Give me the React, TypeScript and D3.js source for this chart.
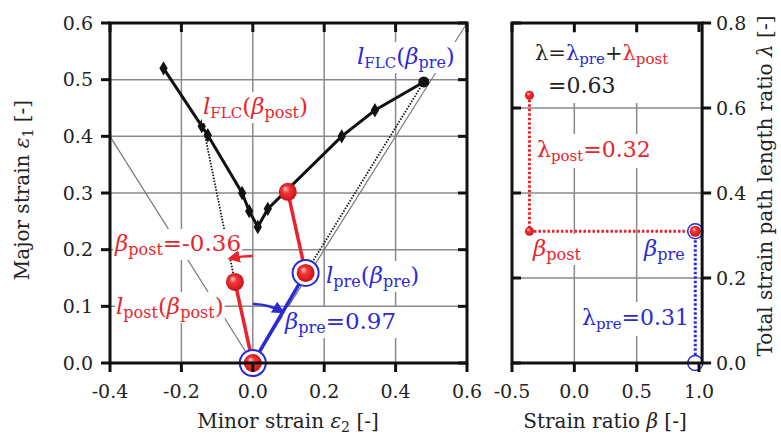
import React, { useLayoutEffect, useRef, useState } from "react";
import * as d3 from "d3";

// ---- data ----
const flcMinor = [-0.25, -0.143, -0.126, -0.03, -0.01, 0.014, 0.042, 0.249, 0.342, 0.479];
const flcMajor = [0.52, 0.418, 0.402, 0.30, 0.268, 0.24, 0.272, 0.40, 0.446, 0.496];
const prePoint = [0.148, 0.159];
const postEnd = [0.098, 0.302];
const postShifted = [-0.05, 0.143];
const flcPostHit = [-0.135, 0.405];
const flcPreHit = [0.479, 0.496];
const betaPre = 0.97;
const betaPost = -0.36;
const lambdaPre = 0.31;
const lambdaPost = 0.32;
const leftXTicks = [-0.4, -0.2, 0.0, 0.2, 0.4, 0.6];
const leftYTicks = [0.0, 0.1, 0.2, 0.3, 0.4, 0.5, 0.6];
const rightXTicks = [-0.5, 0.0, 0.5, 1.0];
const rightYTicks = [0.0, 0.2, 0.4, 0.6, 0.8];

const RED = "#e8242c";
const BLUE = "#2a2ad6";
const GRID = "#8a8a8a";
const FONT = "'DejaVu Serif', serif";

const xL = d3.scaleLinear().domain([-0.4, 0.6]).range([110, 467]);
const yL = d3.scaleLinear().domain([0, 0.6]).range([363, 23]);
const xR = d3.scaleLinear().domain([-0.5, 1.0]).range([512, 699]);
const yR = d3.scaleLinear().domain([0, 0.8]).range([363, 23]);
const xRmax = 1.025;

function Boxed({ children, pad = 1 }: { children: React.ReactNode; pad?: number }) {
  const ref = useRef<SVGGElement>(null);
  const [b, setB] = useState<any>(null);
  useLayoutEffect(() => {
    if (ref.current) {
      const bb = ref.current.getBBox();
      setB({ x: bb.x, y: bb.y, w: bb.width, h: bb.height });
    }
  }, []);
  return (
    <g>
      {b && <rect x={b.x - pad} y={b.y - pad} width={b.w + 2 * pad} height={b.h + 2 * pad} fill="white" />}
      <g ref={ref}>{children}</g>
    </g>
  );
}

function arcArrow(r: number, target: number[], color: string, id: string) {
  const ox = xL(0), oy = yL(0);
  const tx = xL(target[0]) - ox, ty = yL(target[1]) - oy;
  const len = Math.hypot(tx, ty);
  const ex = ox + (tx / len) * r, ey = oy + (ty / len) * r;
  const sweep = tx > 0 ? 1 : 0;
  return (
    <path
      d={`M${ox},${oy - r} A${r},${r} 0 0 ${sweep} ${ex},${ey}`}
      fill="none"
      stroke={color}
      strokeWidth={2.5}
      markerEnd={`url(#${id})`}
    />
  );
}

const MAIN = 23;
const SUB = 16;

export default function App() {
  const flc = flcMinor.map((x, i) => [x, flcMajor[i]]);
  const lineL = d3.line<number[]>().x((d) => xL(d[0])).y((d) => yL(d[1]));
  const diamond = d3.symbol().type(d3.symbolDiamond).size(60)();
  const lambdaTot = lambdaPre + lambdaPost;
  const tickTxt = { fontFamily: FONT, fontSize: 19, fill: "#222" } as any;

  return (
    <svg width={781} height={442} style={{ position: "absolute", left: 0, top: 0, background: "white" }}>
      <defs>
        <radialGradient id="redball" cx="50%" cy="50%" r="55%" fx="35%" fy="30%">
          <stop offset="0%" stopColor="#ffd0d0" />
          <stop offset="35%" stopColor="#f23a3a" />
          <stop offset="100%" stopColor="#c80a10" />
        </radialGradient>
        <marker id="arrB" viewBox="0 0 10 10" refX="8" refY="5" markerWidth="5" markerHeight="5" orient="auto">
          <path d="M0,0 L10,5 L0,10 z" fill={BLUE} />
        </marker>
        <marker id="arrR" viewBox="0 0 10 10" refX="8" refY="5" markerWidth="5" markerHeight="5" orient="auto">
          <path d="M0,0 L10,5 L0,10 z" fill={RED} />
        </marker>
      </defs>

      {/* ===== LEFT PLOT ===== */}
      <g>
        {leftXTicks.slice(1, -1).map((t) => (
          <line key={"gx" + t} x1={xL(t)} x2={xL(t)} y1={yL(0)} y2={yL(0.6)} stroke={GRID} strokeWidth={1.5} />
        ))}
        {leftYTicks.slice(1, -1).map((t) => (
          <line key={"gy" + t} x1={xL(-0.4)} x2={xL(0.6)} y1={yL(t)} y2={yL(t)} stroke={GRID} strokeWidth={1.5} />
        ))}
        <line x1={xL(-0.4)} y1={yL(0.4)} x2={xL(0)} y2={yL(0)} stroke="#777" strokeWidth={1.2} />
        <line x1={xL(0)} y1={yL(0)} x2={xL(0.6)} y2={yL(0.6)} stroke="#777" strokeWidth={1.2} />
        <line x1={xL(postShifted[0])} y1={yL(postShifted[1])} x2={xL(flcPostHit[0])} y2={yL(flcPostHit[1])} stroke="#111" strokeWidth={1.8} strokeDasharray="1.5,1.5" />
        <line x1={xL(prePoint[0])} y1={yL(prePoint[1])} x2={xL(flcPreHit[0])} y2={yL(flcPreHit[1])} stroke="#111" strokeWidth={1.8} strokeDasharray="1.5,1.5" />

        <path d={lineL(flc) || ""} fill="none" stroke="#111" strokeWidth={3} />
        {flc.map((p, i) =>
          i === flc.length - 1 ? (
            <circle key={i} cx={xL(p[0])} cy={yL(p[1])} r={5.5} fill="#111" />
          ) : (
            <path key={i} d={diamond || ""} transform={`translate(${xL(p[0])},${yL(p[1])})`} fill="#111" />
          )
        )}

        <Boxed>
          <text x={203} y={114} fontFamily={FONT} fontSize={MAIN} fill={RED}>
            <tspan fontStyle="italic">l</tspan>
            <tspan fontSize={15} dy={4}>FLC</tspan>
            <tspan dy={-4}>(</tspan>
            <tspan fontStyle="italic">β</tspan>
            <tspan fontSize={SUB} dy={4}>post</tspan>
            <tspan dy={-4}>)</tspan>
          </text>
        </Boxed>
        <Boxed>
          <text x={357} y={64} fontFamily={FONT} fontSize={MAIN} fill={BLUE}>
            <tspan fontStyle="italic">l</tspan>
            <tspan fontSize={15} dy={4}>FLC</tspan>
            <tspan dy={-4}>(</tspan>
            <tspan fontStyle="italic">β</tspan>
            <tspan fontSize={SUB} dy={4}>pre</tspan>
            <tspan dy={-4}>)</tspan>
          </text>
        </Boxed>
        <Boxed>
          <text x={115} y={251} fontFamily={FONT} fontSize={MAIN} fill={RED}>
            <tspan fontStyle="italic">β</tspan>
            <tspan fontSize={SUB} dy={4}>post</tspan>
            <tspan dy={-4}>{"=" + betaPost.toFixed(2)}</tspan>
          </text>
        </Boxed>
        <Boxed>
          <text x={116} y={314} fontFamily={FONT} fontSize={MAIN} fill={RED}>
            <tspan fontStyle="italic">l</tspan>
            <tspan fontSize={SUB} dy={4}>post</tspan>
            <tspan dy={-4}>(</tspan>
            <tspan fontStyle="italic">β</tspan>
            <tspan fontSize={SUB} dy={4}>post</tspan>
            <tspan dy={-4}>)</tspan>
          </text>
        </Boxed>
        <Boxed>
          <text x={326} y={283} fontFamily={FONT} fontSize={MAIN} fill={BLUE}>
            <tspan fontStyle="italic">l</tspan>
            <tspan fontSize={SUB} dy={4}>pre</tspan>
            <tspan dy={-4}>(</tspan>
            <tspan fontStyle="italic">β</tspan>
            <tspan fontSize={SUB} dy={4}>pre</tspan>
            <tspan dy={-4}>)</tspan>
          </text>
        </Boxed>
        <Boxed>
          <text x={285} y={329} fontFamily={FONT} fontSize={MAIN} fill={BLUE}>
            <tspan fontStyle="italic">β</tspan>
            <tspan fontSize={SUB} dy={4}>pre</tspan>
            <tspan dy={-4}>{"=" + betaPre.toFixed(2)}</tspan>
          </text>
        </Boxed>

        {arcArrow(107, postShifted, RED, "arrR")}
        {arcArrow(59, prePoint, BLUE, "arrB")}

        <line x1={xL(0)} y1={yL(0)} x2={xL(prePoint[0])} y2={yL(prePoint[1])} stroke={BLUE} strokeWidth={3.5} />
        <line x1={xL(0)} y1={yL(0)} x2={xL(postShifted[0])} y2={yL(postShifted[1])} stroke={RED} strokeWidth={3.5} />
        <line x1={xL(prePoint[0])} y1={yL(prePoint[1])} x2={xL(postEnd[0])} y2={yL(postEnd[1])} stroke={RED} strokeWidth={3.5} />
        {[[0, 0], prePoint].map((p, i) => (
          <circle key={"ring" + i} cx={xL(p[0])} cy={yL(p[1])} r={13} fill="white" stroke={BLUE} strokeWidth={2} />
        ))}
        {[[0, 0], prePoint, postEnd, postShifted].map((p, i) => (
          <circle key={"ball" + i} cx={xL(p[0])} cy={yL(p[1])} r={9} fill="url(#redball)" />
        ))}

        <rect x={xL(-0.4)} y={yL(0.6)} width={xL(0.6) - xL(-0.4)} height={yL(0) - yL(0.6)} fill="none" stroke="#111" strokeWidth={3} />
        {leftXTicks.map((t) => (
          <g key={"tx" + t}>
            <line x1={xL(t)} x2={xL(t)} y1={yL(0)} y2={yL(0) + 9} stroke="#111" strokeWidth={3} />
            <line x1={xL(t)} x2={xL(t)} y1={yL(0.6)} y2={yL(0.6) + 9} stroke="#111" strokeWidth={3} />
            <text x={xL(t)} y={398} textAnchor="middle" {...tickTxt}>{t.toFixed(1)}</text>
          </g>
        ))}
        {leftYTicks.map((t) => (
          <g key={"ty" + t}>
            <line x1={xL(-0.4) - 9} x2={xL(-0.4)} y1={yL(t)} y2={yL(t)} stroke="#111" strokeWidth={3} />
            <line x1={xL(0.6) - 9} x2={xL(0.6)} y1={yL(t)} y2={yL(t)} stroke="#111" strokeWidth={3} />
            <text x={93} y={yL(t)} dy="0.35em" textAnchor="end" {...tickTxt}>{t.toFixed(1)}</text>
          </g>
        ))}
        <text x={288} y={428} textAnchor="middle" fontFamily={FONT} fontSize={20} fill="#222">
          Minor strain <tspan fontStyle="italic">ε</tspan><tspan fontSize={14} dy={4}>2</tspan><tspan dy={-4}> [-]</tspan>
        </text>
        <text transform="translate(29,190) rotate(-90)" textAnchor="middle" fontFamily={FONT} fontSize={20} fill="#222">
          Major strain <tspan fontStyle="italic">ε</tspan><tspan fontSize={14} dy={4}>1</tspan><tspan dy={-4}> [-]</tspan>
        </text>
      </g>

      {/* ===== RIGHT PLOT ===== */}
      <g>
        {[0.0, 0.5].map((t) => (
          <line key={"rgx" + t} x1={xR(t)} x2={xR(t)} y1={yR(0)} y2={yR(0.8)} stroke={GRID} strokeWidth={1.5} />
        ))}
        {[0.2, 0.4, 0.6].map((t) => (
          <line key={"rgy" + t} x1={xR(-0.5)} x2={xR(xRmax)} y1={yR(t)} y2={yR(t)} stroke={GRID} strokeWidth={1.5} />
        ))}
        <rect x={530} y={33} width={165} height={70} fill="white" />
        <text x={535} y={60} fontFamily={FONT} fontSize={21} fill="#222">
          <tspan>λ=</tspan>
          <tspan fill={BLUE}>λ</tspan>
          <tspan fill={BLUE} fontSize={15} dy={4}>pre</tspan>
          <tspan dy={-4}>+</tspan>
          <tspan fill={RED}>λ</tspan>
          <tspan fill={RED} fontSize={15} dy={4}>post</tspan>
        </text>
        <text x={548} y={93} fontFamily={FONT} fontSize={22} fill="#222">
          {"=" + lambdaTot.toFixed(2)}
        </text>
        <Boxed pad={3}>
          <text x={537} y={157} fontFamily={FONT} fontSize={22} fill={RED}>
            <tspan>λ</tspan>
            <tspan fontSize={15} dy={4}>post</tspan>
            <tspan dy={-4}>{"=" + lambdaPost.toFixed(2)}</tspan>
          </text>
        </Boxed>
        <Boxed>
          <text x={533} y={256} fontFamily={FONT} fontSize={MAIN} fill={RED}>
            <tspan fontStyle="italic">β</tspan>
            <tspan fontSize={SUB} dy={4}>post</tspan>
          </text>
        </Boxed>
        <text x={644} y={256} fontFamily={FONT} fontSize={MAIN} fill={BLUE}>
          <tspan fontStyle="italic">β</tspan>
          <tspan fontSize={SUB} dy={4}>pre</tspan>
        </text>
        <Boxed pad={3}>
          <text x={582} y={325} fontFamily={FONT} fontSize={22} fill={BLUE}>
            <tspan>λ</tspan>
            <tspan fontSize={15} dy={4}>pre</tspan>
            <tspan dy={-4}>{"=" + lambdaPre.toFixed(2)}</tspan>
          </text>
        </Boxed>

        <line x1={xR(betaPost)} x2={xR(betaPost)} y1={yR(lambdaTot)} y2={yR(lambdaPre)} stroke={RED} strokeWidth={3} strokeDasharray="2.5,2" />
        <line x1={xR(betaPost)} x2={xR(betaPre)} y1={yR(lambdaPre)} y2={yR(lambdaPre)} stroke={RED} strokeWidth={3} strokeDasharray="2.5,2" />
        <line x1={xR(betaPre)} x2={xR(betaPre)} y1={yR(lambdaPre)} y2={yR(0)} stroke={BLUE} strokeWidth={3} strokeDasharray="2.5,2" />
        <circle cx={xR(betaPre)} cy={yR(0)} r={7.5} fill="white" stroke={BLUE} strokeWidth={1.5} />
        <circle cx={xR(betaPre)} cy={yR(lambdaPre)} r={7.5} fill="white" stroke={BLUE} strokeWidth={1.5} />
        <circle cx={xR(betaPre)} cy={yR(lambdaPre)} r={5.5} fill="url(#redball)" />
        <circle cx={xR(betaPost)} cy={yR(lambdaPre)} r={4.5} fill="url(#redball)" />
        <circle cx={xR(betaPost)} cy={yR(lambdaTot)} r={4.5} fill="url(#redball)" />

        <rect x={xR(-0.5)} y={yR(0.8)} width={xR(xRmax) - xR(-0.5)} height={yR(0) - yR(0.8)} fill="none" stroke="#111" strokeWidth={3} />
        {rightXTicks.map((t) => (
          <g key={"rtx" + t}>
            <line x1={xR(t)} x2={xR(t)} y1={yR(0)} y2={yR(0) + 9} stroke="#111" strokeWidth={3} />
            <line x1={xR(t)} x2={xR(t)} y1={yR(0.8)} y2={yR(0.8) + 9} stroke="#111" strokeWidth={3} />
            <text x={xR(t)} y={398} textAnchor="middle" {...tickTxt}>{t.toFixed(1)}</text>
          </g>
        ))}
        {rightYTicks.map((t) => (
          <g key={"rty" + t}>
            <line x1={xR(-0.5)} x2={xR(-0.5) + 9} y1={yR(t)} y2={yR(t)} stroke="#111" strokeWidth={3} />
            <line x1={xR(xRmax)} x2={xR(xRmax) + 9} y1={yR(t)} y2={yR(t)} stroke="#111" strokeWidth={3} />
            <text x={716} y={yR(t)} dy="0.35em" textAnchor="start" {...tickTxt}>{t.toFixed(1)}</text>
          </g>
        ))}
        <text x={605} y={428} textAnchor="middle" fontFamily={FONT} fontSize={20} fill="#222">
          Strain ratio <tspan fontStyle="italic">β</tspan> [-]
        </text>
        <text transform="translate(772,186) rotate(-90)" textAnchor="middle" fontFamily={FONT} fontSize={20} fill="#222">
          Total strain path length ratio <tspan fontStyle="italic">λ</tspan> [-]
        </text>
      </g>
    </svg>
  );
}
